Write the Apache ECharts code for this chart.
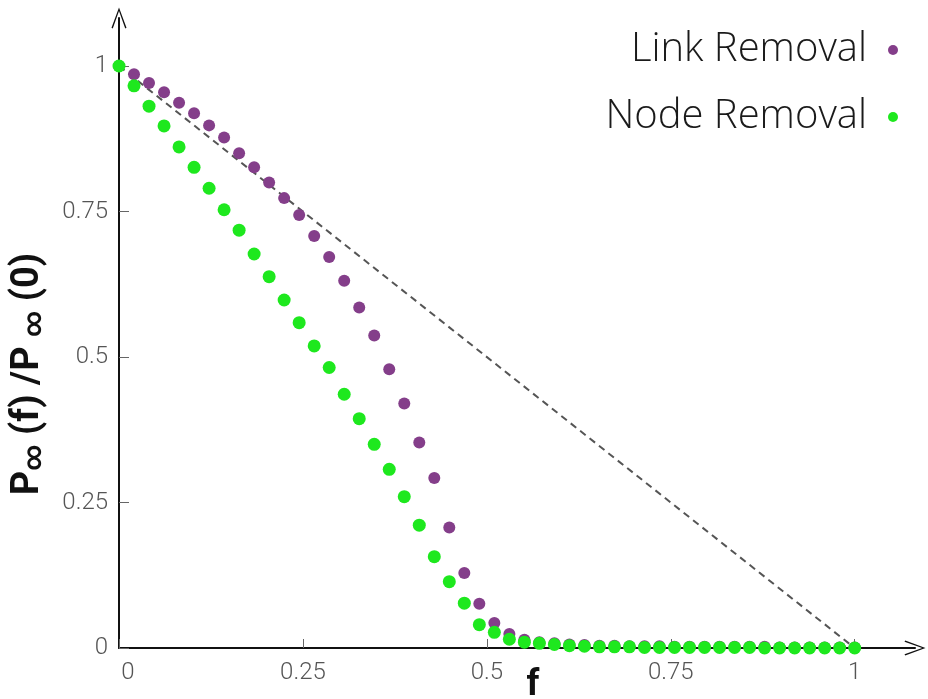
<!DOCTYPE html>
<html>
<head>
<meta charset="utf-8">
<script src="https://cdn.jsdelivr.net/npm/echarts@6/dist/echarts.min.js"></script>
<style>
html,body{margin:0;padding:0;background:#fff;}
#chart{width:928px;height:699px;}
</style>
</head>
<body>
<div id="chart"></div>
<script>
// fraction of removed links/nodes: 50 evenly spaced points from 0 to 1
var fValues = [];
for (var i = 0; i < 50; i++) fValues.push(i / 49);

var linkRemoval = [1.0, 0.986, 0.971, 0.955, 0.937, 0.919, 0.898, 0.877, 0.850, 0.826,
  0.800, 0.773, 0.744, 0.708, 0.672, 0.631, 0.585, 0.537, 0.479, 0.420,
  0.353, 0.292, 0.207, 0.129, 0.076, 0.043, 0.024, 0.014, 0.010, 0.008,
  0.006, 0.005, 0.004, 0.004, 0.003, 0.003, 0.003, 0.002, 0.002, 0.002,
  0.002, 0.002, 0.002, 0.002, 0.001, 0.001, 0.001, 0.001, 0.001, 0.001];

var nodeRemoval = [1.0, 0.966, 0.931, 0.897, 0.861, 0.826, 0.790, 0.753, 0.718, 0.677,
  0.638, 0.598, 0.559, 0.519, 0.482, 0.436, 0.394, 0.350, 0.307, 0.260,
  0.211, 0.157, 0.114, 0.077, 0.040, 0.027, 0.015, 0.010, 0.008, 0.006,
  0.004, 0.003, 0.002, 0.002, 0.002, 0.001, 0.001, 0.001, 0.001, 0.001,
  0.001, 0.001, 0.001, 0.000, 0.000, 0.000, 0.000, 0.000, 0.000, 0.000];

var referenceLine = [[0, 1], [1, 0]];
var tickValues = [0, 0.25, 0.5, 0.75, 1];

function pairs(ys) { return fValues.map(function (f, i) { return [f, ys[i]]; }); }

var chevron = 'path://M10,0 L20,27 L18.3,28 L10,4.5 L1.7,28 L0,27 Z';

var chart = echarts.init(document.getElementById('chart'), null, {renderer: 'canvas'});
chart.setOption({
  animation: false,
  backgroundColor: '#ffffff',
  grid: {left: 119, right: 13, top: 18, bottom: 51, containLabel: false, outerBoundsMode: 'none'},
  legend: {
    orient: 'vertical',
    right: 25,
    top: 25,
    align: 'right',
    itemWidth: 10,
    itemHeight: 10,
    itemGap: 27,
    icon: 'circle',
    textStyle: {fontFamily: 'Open Sans', fontWeight: 300, fontSize: 40, lineHeight: 40, color: '#1a1a1a', padding: [0, 16, 0, 0]},
    data: ['Link Removal', 'Node Removal']
  },
  xAxis: {
    type: 'value',
    min: 0,
    max: 1.082,
    name: 'f',
    nameLocation: 'middle',
    nameGap: 20,
    nameMoveOverlap: false,
    nameTextStyle: {fontFamily: 'Roboto', fontWeight: 'bold', fontSize: 36, color: '#111', padding: [0, 0, 0, 32]},
    splitLine: {show: false},
    axisLine: {show: true, onZero: false, symbol: ['none', chevron], symbolSize: [15, 21], lineStyle: {color: '#111', width: 2}},
    axisTick: {show: true, inside: true, length: 9, customValues: tickValues, lineStyle: {color: '#666', width: 1}},
    axisLabel: {
      customValues: tickValues, margin: 13,
      fontFamily: 'Roboto', fontWeight: 300, fontSize: 24, color: '#555',
      formatter: function (v) { return v === 0 ? '{z|0}' : String(v); },
      rich: {z: {fontFamily: 'Roboto', fontWeight: 300, fontSize: 24, color: '#555', padding: [0, 0, 0, 18]}}
    }
  },
  yAxis: {
    type: 'value',
    min: 0,
    max: 1.0825,
    name: '{b|P}{s|∞}{b| (f) /P }{s|∞}{b| (0)}',
    nameLocation: 'middle',
    nameRotate: 90,
    nameGap: 72,
    nameMoveOverlap: false,
    nameTextStyle: {
      padding: [0, 82, 0, 0],
      rich: {
        b: {fontFamily: 'Roboto', fontWeight: 'bold', fontSize: 38, color: '#111'},
        s: {fontFamily: 'Roboto', fontWeight: 'bold', fontSize: 25, color: '#111', verticalAlign: 'bottom', padding: [10, 0, 0, 0]}
      }
    },
    splitLine: {show: false},
    axisLine: {show: true, onZero: false, symbol: ['none', chevron], symbolSize: [15, 21], lineStyle: {color: '#111', width: 2}},
    axisTick: {show: true, inside: true, length: 10, customValues: tickValues, lineStyle: {color: '#666', width: 1}},
    axisLabel: {customValues: tickValues, margin: 11, fontFamily: 'Roboto', fontWeight: 300, fontSize: 24, color: '#555'}
  },
  series: [
    {
      name: 'reference',
      type: 'line',
      data: referenceLine,
      symbol: 'none',
      silent: true,
      z: 1,
      lineStyle: {color: '#555', width: 2, type: [7, 5]}
    },
    {
      name: 'Link Removal',
      type: 'scatter',
      data: pairs(linkRemoval),
      symbolSize: 12,
      clip: false,
      z: 2,
      itemStyle: {color: '#843e8a', opacity: 1}
    },
    {
      name: 'Node Removal',
      type: 'scatter',
      data: pairs(nodeRemoval),
      symbolSize: 13,
      clip: false,
      z: 3,
      itemStyle: {color: '#1ee81e', opacity: 1}
    }
  ]
});
</script>
</body>
</html>
